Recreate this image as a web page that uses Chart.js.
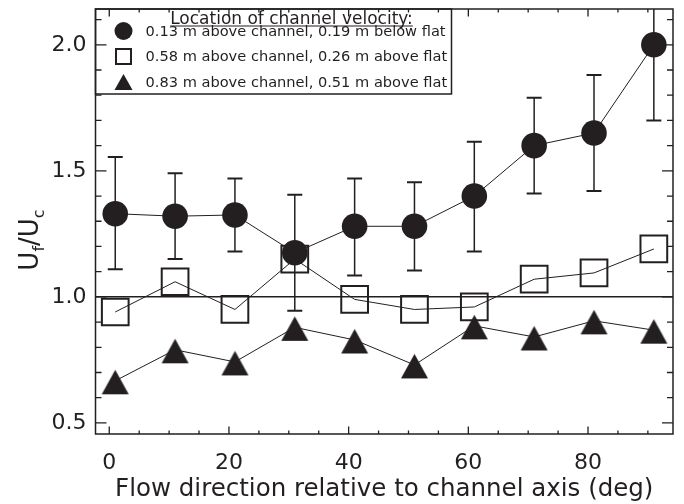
<!DOCTYPE html>
<html>
<head>
<meta charset="utf-8">
<script src="https://cdn.jsdelivr.net/npm/chart.js@4.4.0/dist/chart.umd.min.js"></script>
<style>
  html, body { margin: 0; padding: 0; background: #fff; }
  #wrap { width: 684px; height: 504px; }
</style>
</head>
<body>
<div id="wrap"><canvas id="js-chart-flow"></canvas></div>
<script>
// Values
const flowAngles = [1, 11, 21, 31, 41, 51, 61, 71, 81, 91];
const ratioLow = [1.33, 1.32, 1.325, 1.175, 1.28, 1.28, 1.40, 1.60, 1.65, 2.0];
const ratioLowErrTop = [1.555, 1.49, 1.47, 1.405, 1.47, 1.455, 1.615, 1.79, 1.88, 2.3];
const ratioLowErrBottom = [1.11, 1.15, 1.18, 0.945, 1.085, 1.105, 1.18, 1.41, 1.42, 1.70];
const ratioMid = [0.94, 1.06, 0.95, 1.15, 0.99, 0.95, 0.96, 1.07, 1.095, 1.19];
const ratioHigh = [0.667, 0.79, 0.742, 0.879, 0.829, 0.73, 0.885, 0.841, 0.905, 0.868];
const seriesLabels = [
  "0.13 m above channel, 0.19 m below flat",
  "0.58 m above channel, 0.26 m above flat",
  "0.83 m above channel, 0.51 m above flat",
];
const legendTitle = "Location of channel velocity:";
const xTickValues = [0, 20, 40, 60, 80];
const yTickValues = [0.5, 1.0, 1.5, 2.0];
const referenceRatio = 1.0;
const xTitle = "Flow direction relative to channel axis (deg)";

const ink = "#231f20";
const fontFamily = "'DejaVu Sans', sans-serif";

// Filled triangle marker, drawn a little below centre like the original symbol
function makeTriangle(halfW, above, below) {
  const c = document.createElement("canvas");
  const h = Math.ceil(2 * Math.max(above, below)) + 2;
  c.width = Math.ceil(2 * halfW) + 2;
  c.height = h;
  const g = c.getContext("2d");
  const cx = c.width / 2, cy = h / 2;
  g.fillStyle = ink;
  g.beginPath();
  g.moveTo(cx, cy - above);
  g.lineTo(cx + halfW, cy + below);
  g.lineTo(cx - halfW, cy + below);
  g.closePath();
  g.fill();
  return c;
}
const triangleMarker = makeTriangle(13.5, 11, 13.5);

const toPoints = (ys) => flowAngles.map((x, i) => ({ x: x, y: ys[i] }));

// Drop the label overhang padding so the plot box lands where the original has it
const noOverhang = (s) => {
  s.paddingTop = 0;
  s.paddingBottom = 0;
  s.paddingLeft = 0;
  s.paddingRight = 0;
};

const flowExtras = {
  id: "flowExtras",
  beforeDatasetsDraw(chart) {
    const ctx = chart.ctx, xs = chart.scales.x, ys = chart.scales.y, a = chart.chartArea;
    ctx.save();
    ctx.beginPath();
    ctx.rect(a.left, a.top, a.right - a.left, a.bottom - a.top);
    ctx.clip();
    ctx.strokeStyle = ink;
    // reference line at 1.0
    const yRef = ys.getPixelForValue(referenceRatio);
    ctx.lineWidth = 1.5;
    ctx.beginPath();
    ctx.moveTo(a.left, yRef);
    ctx.lineTo(a.right, yRef);
    ctx.stroke();
    // error bars for the lowest velocity series
    flowAngles.forEach((ang, i) => {
      const px = xs.getPixelForValue(ang);
      const top = ys.getPixelForValue(ratioLowErrTop[i]);
      const bot = ys.getPixelForValue(ratioLowErrBottom[i]);
      ctx.lineWidth = 1.5;
      ctx.beginPath();
      ctx.moveTo(px, top);
      ctx.lineTo(px, bot);
      ctx.stroke();
      ctx.lineWidth = 2;
      ctx.beginPath();
      ctx.moveTo(px - 7.5, top);
      ctx.lineTo(px + 7.5, top);
      ctx.moveTo(px - 7.5, bot);
      ctx.lineTo(px + 7.5, bot);
      ctx.stroke();
    });
    ctx.restore();
  },
  afterDraw(chart) {
    const ctx = chart.ctx, xs = chart.scales.x, ys = chart.scales.y, a = chart.chartArea;
    ctx.save();

    // legend box in the upper left corner
    const bx = a.left, by = a.top, bw = 356, bh = 85;
    ctx.fillStyle = "#fff";
    ctx.fillRect(bx, by, bw, bh);
    ctx.strokeStyle = ink;
    ctx.lineWidth = 1.5;
    ctx.strokeRect(bx, by, bw, bh);
    ctx.fillStyle = ink;
    ctx.font = "17px " + fontFamily;
    ctx.textAlign = "center";
    ctx.textBaseline = "alphabetic";
    const tx = bx + 196;
    ctx.fillText(legendTitle, tx, by + 15);
    const tw = ctx.measureText(legendTitle).width;
    ctx.lineWidth = 1.2;
    ctx.beginPath();
    ctx.moveTo(tx - tw / 2, by + 17);
    ctx.lineTo(tx + tw / 2, by + 17);
    ctx.stroke();

    ctx.font = "14.6px " + fontFamily;
    ctx.textAlign = "left";
    ctx.textBaseline = "middle";
    const mx = bx + 28;
    seriesLabels.forEach((lab, i) => {
      const ry = by + 22 + i * 25.5;
      if (i === 0) {
        ctx.beginPath();
        ctx.arc(mx, ry, 9, 0, Math.PI * 2);
        ctx.fill();
      } else if (i === 1) {
        ctx.lineWidth = 2;
        ctx.strokeRect(mx - 7.5, ry - 7.5, 15, 15);
      } else {
        ctx.beginPath();
        ctx.moveTo(mx, ry - 8);
        ctx.lineTo(mx + 9, ry + 8);
        ctx.lineTo(mx - 9, ry + 8);
        ctx.closePath();
        ctx.fill();
      }
      ctx.fillText(lab, bx + 50, ry + 1);
    });

    // frame with inward ticks on all four sides
    ctx.lineWidth = 1.5;
    ctx.strokeRect(a.left, a.top, a.right - a.left, a.bottom - a.top);
    ctx.lineWidth = 1.3;
    ctx.beginPath();
    for (let v = 0; v <= 90; v += 5) {
      const px = xs.getPixelForValue(v);
      const len = v % 20 === 0 ? 7.5 : 3.5;
      ctx.moveTo(px, a.bottom);
      ctx.lineTo(px, a.bottom - len);
      ctx.moveTo(px, a.top);
      ctx.lineTo(px, a.top + len);
    }
    for (let k = 5; k <= 21; k++) {
      const py = ys.getPixelForValue(k / 10);
      const len = k % 5 === 0 ? 11 : 6;
      ctx.moveTo(a.left, py);
      ctx.lineTo(a.left + len, py);
      ctx.moveTo(a.right, py);
      ctx.lineTo(a.right - len, py);
    }
    ctx.stroke();

    // y axis title U_f/U_c with subscripts
    ctx.translate(29, 240);
    ctx.rotate(-Math.PI / 2);
    const big = "26px " + fontFamily, small = "16px " + fontFamily;
    const parts = [["U", big, 0], ["f", small, 6], ["/U", big, 0], ["c", small, 6]];
    let total = 0;
    parts.forEach((p) => { ctx.font = p[1]; total += ctx.measureText(p[0]).width; });
    let cx = -total / 2;
    ctx.textAlign = "left";
    ctx.textBaseline = "alphabetic";
    parts.forEach((p) => {
      ctx.font = p[1];
      ctx.fillText(p[0], cx, 9 + p[2]);
      cx += ctx.measureText(p[0]).width;
    });
    ctx.restore();
  },
};

const chartFlowCon = document.getElementById("js-chart-flow");
const chartFlow = new Chart(chartFlowCon, {
  type: "scatter",
  data: {
    datasets: [
      {
        label: seriesLabels[0],
        data: toPoints(ratioLow),
        showLine: true,
        borderColor: ink,
        borderWidth: 1,
        pointStyle: "circle",
        pointRadius: 12.8,
        pointHoverRadius: 12.8,
        pointBackgroundColor: ink,
        pointBorderWidth: 0,
        clip: false,
      },
      {
        label: seriesLabels[1],
        data: toPoints(ratioMid),
        showLine: true,
        borderColor: ink,
        borderWidth: 1,
        pointStyle: "rect",
        pointRadius: 18.9,
        pointHoverRadius: 18.9,
        pointBackgroundColor: "rgba(0,0,0,0)",
        pointBorderColor: ink,
        pointBorderWidth: 2,
        clip: false,
      },
      {
        label: seriesLabels[2],
        data: toPoints(ratioHigh),
        showLine: true,
        borderColor: ink,
        borderWidth: 1,
        pointStyle: triangleMarker,
        pointRadius: 13,
        pointHoverRadius: 13,
        clip: false,
      },
    ],
  },
  options: {
    responsive: true,
    maintainAspectRatio: false,
    animation: false,
    events: [],
    layout: { autoPadding: false, padding: { top: 9, right: 11, left: 0, bottom: 0 } },
    scales: {
      x: {
        type: "linear",
        min: -2.3,
        max: 94.2,
        grid: { display: false, drawTicks: false },
        border: { display: false },
        afterBuildTicks: (s) => { s.ticks = xTickValues.map((v) => ({ value: v })); },
        afterFit: (s) => { s.height = 70; noOverhang(s); },
        ticks: {
          color: ink,
          padding: 16,
          maxRotation: 0,
          font: { family: fontFamily, size: 22 },
          callback: (v) => String(v),
        },
        title: {
          display: true,
          text: xTitle,
          color: ink,
          font: { family: fontFamily, size: 24.5 },
          padding: { top: 0, bottom: 0 },
        },
      },
      y: {
        type: "linear",
        min: 0.456,
        max: 2.142,
        grid: { display: false, drawTicks: false },
        border: { display: false },
        afterBuildTicks: (s) => { s.ticks = yTickValues.map((v) => ({ value: v })); },
        afterFit: (s) => { s.width = 95.5; noOverhang(s); },
        ticks: {
          color: ink,
          padding: 9,
          font: { family: fontFamily, size: 22 },
          callback: (v) => v.toFixed(1),
        },
      },
    },
    plugins: {
      legend: { display: false },
      tooltip: { enabled: false },
    },
  },
  plugins: [flowExtras],
});
</script>
</body>
</html>
